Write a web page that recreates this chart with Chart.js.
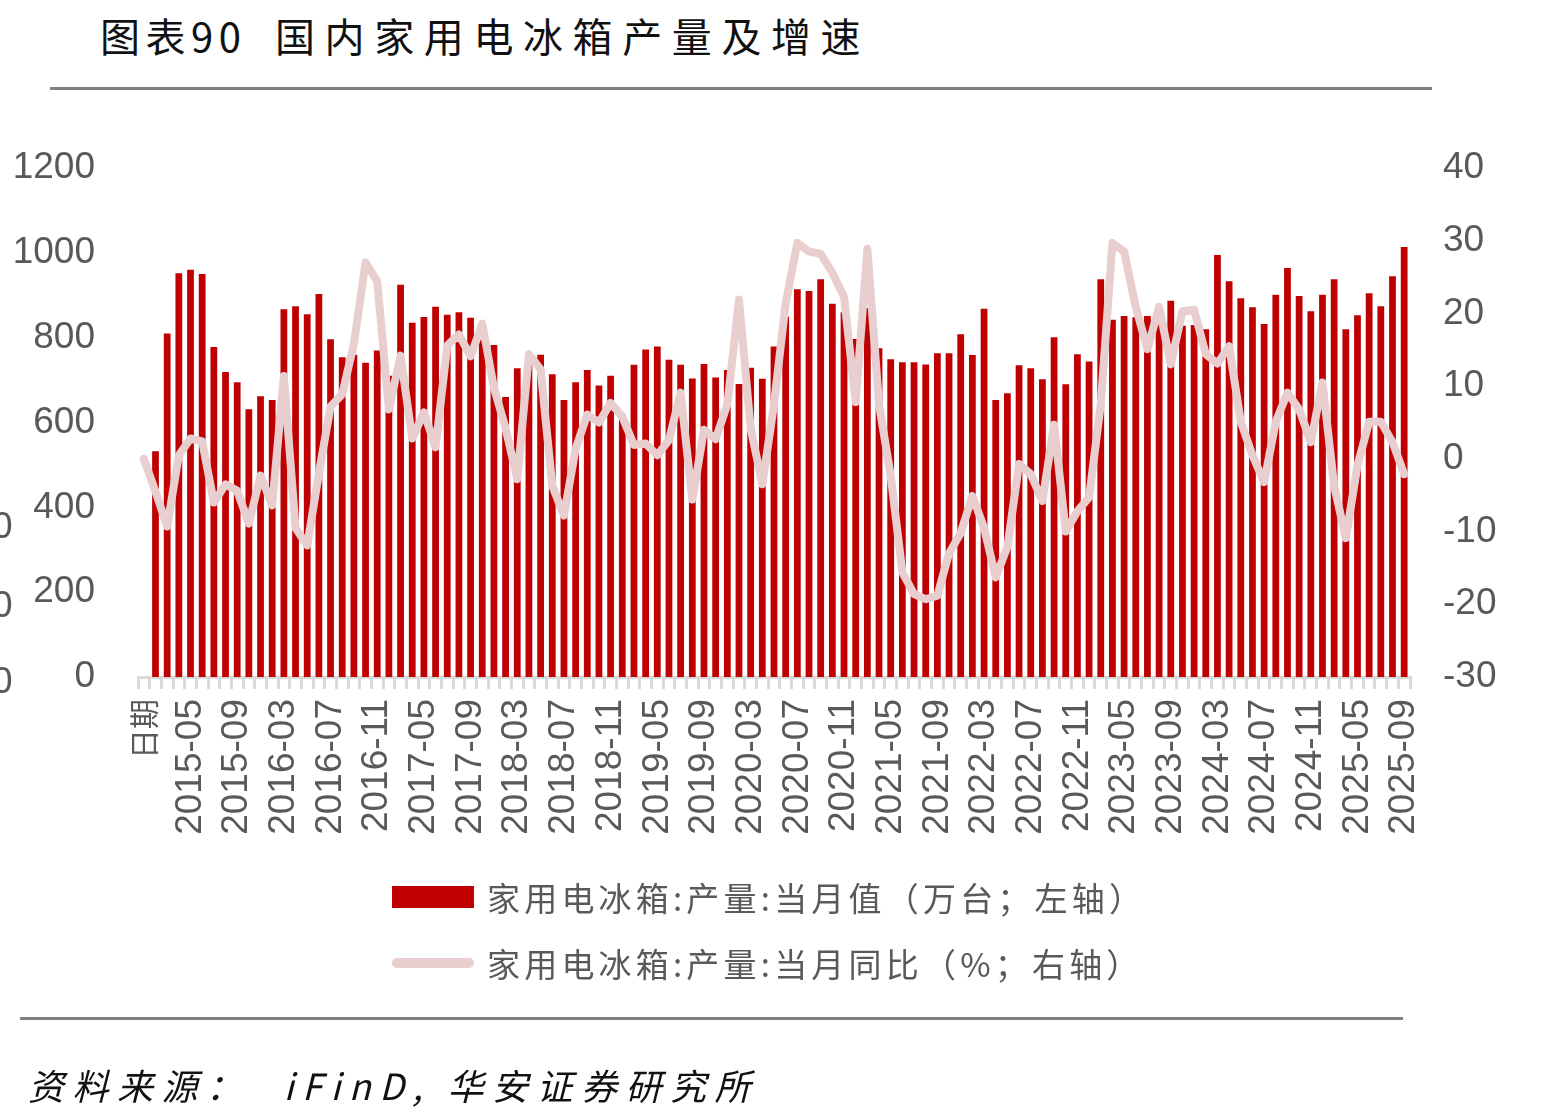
<!DOCTYPE html>
<html>
<head>
<meta charset="utf-8">
<script src="https://cdn.jsdelivr.net/npm/chart.js@4.4.1/dist/chart.umd.min.js"></script>
<style>
  body { margin: 0; width: 1563px; height: 1120px; overflow: hidden; position: relative; background: #fff; }
  #chart { position: absolute; left: 0; top: 0; }
  .title { position: absolute; top: 6px; font-size: 40px; font-family: "Noto Sans CJK SC"; color: #111; white-space: nowrap; }
  .rule { position: absolute; height: 3px; background: #808080; }
  .source { position: absolute; left: 28px; top: 1058px; font-size: 36px; font-family: "Noto Sans CJK SC"; font-style: italic; letter-spacing: 8.5px; color: #111; white-space: nowrap; }
  .cut { position: absolute; left: -8px; font-size: 37px; font-family: "Liberation Sans", Arial; color: #595959; line-height: 1; }
</style>
</head>
<body>
<div class="title" style="left:100px; letter-spacing:5.5px;">图表90</div>
<div class="title" style="left:275px; letter-spacing:9.6px;">国内家用电冰箱产量及增速</div>
<div class="rule" style="left:50px; top:87px; width:1382px;"></div>
<canvas id="chart" width="1563" height="1120"></canvas>
<span class="cut" style="top:507px;">0</span>
<span class="cut" style="top:586px;">0</span>
<span class="cut" style="top:662px;">0</span>
<div class="rule" style="left:20px; top:1017px; width:1383px;"></div>
<div class="source">资料来源：&nbsp; iFinD, 华安证券研究所</div>
<script>
document.addEventListener('DOMContentLoaded', () => {
  // 月份（1、2月无单独数据）
  const months = [
    '日期', '2015-02', '2015-03', '2015-04', '2015-05', '2015-06', '2015-07', '2015-08', '2015-09', '2015-10', '2015-11', '2015-12',
    '2016-03', '2016-04', '2016-05', '2016-06', '2016-07', '2016-08', '2016-09', '2016-10', '2016-11', '2016-12',
    '2017-03', '2017-04', '2017-05', '2017-06', '2017-07', '2017-08', '2017-09', '2017-10', '2017-11', '2017-12',
    '2018-03', '2018-04', '2018-05', '2018-06', '2018-07', '2018-08', '2018-09', '2018-10', '2018-11', '2018-12',
    '2019-03', '2019-04', '2019-05', '2019-06', '2019-07', '2019-08', '2019-09', '2019-10', '2019-11', '2019-12',
    '2020-03', '2020-04', '2020-05', '2020-06', '2020-07', '2020-08', '2020-09', '2020-10', '2020-11', '2020-12',
    '2021-03', '2021-04', '2021-05', '2021-06', '2021-07', '2021-08', '2021-09', '2021-10', '2021-11', '2021-12',
    '2022-03', '2022-04', '2022-05', '2022-06', '2022-07', '2022-08', '2022-09', '2022-10', '2022-11', '2022-12',
    '2023-03', '2023-04', '2023-05', '2023-06', '2023-07', '2023-08', '2023-09', '2023-10', '2023-11', '2023-12',
    '2024-03', '2024-04', '2024-05', '2024-06', '2024-07', '2024-08', '2024-09', '2024-10', '2024-11', '2024-12',
    '2025-03', '2025-04', '2025-05', '2025-06', '2025-07', '2025-08', '2025-09'
  ];

  // 当月值（万台）
  const output = [
    null, 532, 810, 952, 960, 950, 778, 719, 695, 631, 662, 653,
    867, 874, 855, 903, 796, 754, 760, 741, 770, 710,
    925, 835, 849, 873, 854, 860, 847, 800, 783, 660,
    728, 745, 760, 714, 653, 695, 724, 687, 710, 620,
    736, 772, 779, 748, 736, 704, 738, 706, 724, 691,
    729, 703, 779, 850, 914, 910, 938, 880, 860, 797,
    870, 775, 749, 742, 742, 737, 763, 763, 808, 759,
    868, 653, 669, 735, 728, 702, 801, 690, 761, 744,
    938, 842, 851, 848, 851, 845, 887, 828, 830, 820,
    995, 933, 893, 872, 832, 901, 964, 898, 862, 901,
    938, 820, 853, 905, 874, 945, 1014
  ];

  // 当月同比（%）
  const yoy = [
    0, -4.5, -9.3, 0.5, 2.8, 2.4, -6.0, -3.5, -4.4, -8.9, -2.3, -6.4,
    11.4, -9.5, -11.9, -2.0, 7.2, 8.9, 15.8, 27.0, 24.4, 6.8,
    14.2, 2.8, 6.4, 1.6, 15.6, 17.1, 14.1, 18.6, 9.8, 4.2,
    -2.8, 14.4, 12.3, -3.7, -7.8, 1.4, 6.1, 5.0, 7.7, 5.8,
    1.9, 2.1, 0.5, 2.6, 9.1, -5.6, 4.0, 2.7, 7.5, 21.9,
    4.2, -3.5, 7.5, 21.4, 29.7, 28.5, 28.2, 25.6, 22.3, 7.8,
    28.9, 7.5, -2.3, -15.6, -18.6, -19.3, -18.8, -13.0, -10.2, -5.1,
    -9.5, -16.3, -12.1, -0.7, -2.1, -5.8, 4.7, -10.0, -7.2, -5.3,
    7.5, 29.7, 28.5, 20.9, 15.1, 20.9, 13.0, 20.3, 20.5, 14.4,
    13.1, 15.5, 5.1, 0.5, -3.2, 5.1, 9.1, 6.8, 2.3, 10.5,
    -3.7, -10.9, -0.9, 5.1, 5.1, 2.3, -2.1
  ];

  const barColor = '#C00000';
  const lineColor = '#E8CECE';
  const textColor = '#595959';
  const numFont = '"Liberation Sans", Arial, sans-serif';
  const cjkFont = '"Noto Sans CJK SC", sans-serif';

  // legend stacked in two rows, like the original
  const stackLegend = {
    id: 'stackLegend',
    afterDraw(chart) {
      const ctx = chart.ctx;
      const ds = chart.data.datasets;
      ctx.save();
      ctx.fillStyle = barColor;
      ctx.fillRect(392, 886, 82, 22);
      ctx.strokeStyle = lineColor;
      ctx.lineWidth = 10;
      ctx.lineCap = 'round';
      ctx.beginPath();
      ctx.moveTo(397, 963);
      ctx.lineTo(469, 963);
      ctx.stroke();
      ctx.font = '33px ' + cjkFont;
      ctx.letterSpacing = '4.2px';
      ctx.fillStyle = textColor;
      ctx.textBaseline = 'middle';
      ctx.fillText(ds[0].label, 487, 898);
      ctx.fillText(ds[1].label, 487, 964);
      ctx.restore();
    }
  };

  new Chart(document.getElementById('chart'), {
    type: 'bar',
    data: {
      labels: months,
      datasets: [
        {
          label: '家用电冰箱:产量:当月值（万台；左轴）',
          data: output,
          backgroundColor: barColor,
          barPercentage: 0.58,
          categoryPercentage: 1,
          yAxisID: 'y',
          order: 2
        },
        {
          label: '家用电冰箱:产量:当月同比（%；右轴）',
          type: 'line',
          data: yoy,
          borderColor: lineColor,
          borderWidth: 8,
          pointRadius: 0,
          tension: 0,
          borderJoinStyle: 'round',
          borderCapStyle: 'round',
          yAxisID: 'y1',
          order: 1
        }
      ]
    },
    options: {
      responsive: false,
      animation: false,
      layout: { padding: { top: 168, bottom: 263, left: 0, right: 0 } },
      plugins: {
        legend: { display: false },
        tooltip: { enabled: false }
      },
      scales: {
        x: {
          grid: { display: true, drawOnChartArea: false, drawTicks: true, tickLength: 12, color: '#D9D9D9', lineWidth: 3 },
          border: { display: true, color: '#D9D9D9', width: 3 },
          ticks: {
            autoSkip: false,
            minRotation: 90,
            maxRotation: 90,
            padding: 10,
            color: textColor,
            font: (c) => c.index === 0 ? { family: cjkFont, size: 30 } : { family: numFont, size: 37 },
            callback: function (val, i) {
              return i % 4 === 0 ? this.getLabelForValue(val) : '';
            }
          },
          afterFit: (scale) => { scale.height = 180; }
        },
        y: {
          position: 'left',
          min: 0,
          max: 1200,
          grid: { display: false, drawTicks: false },
          border: { display: false },
          ticks: {
            stepSize: 200,
            padding: 43,
            color: textColor,
            font: { family: numFont, size: 37 },
            callback: (v) => String(v)
          },
          afterFit: (scale) => { scale.width = 138; }
        },
        y1: {
          position: 'right',
          min: -30,
          max: 40,
          grid: { display: false, drawTicks: false },
          border: { display: false },
          ticks: {
            stepSize: 10,
            padding: 33,
            color: textColor,
            font: { family: numFont, size: 37 },
            callback: (v) => String(v)
          },
          afterFit: (scale) => { scale.width = 153; }
        }
      }
    },
    plugins: [stackLegend]
  });
});
</script>
</body>
</html>
